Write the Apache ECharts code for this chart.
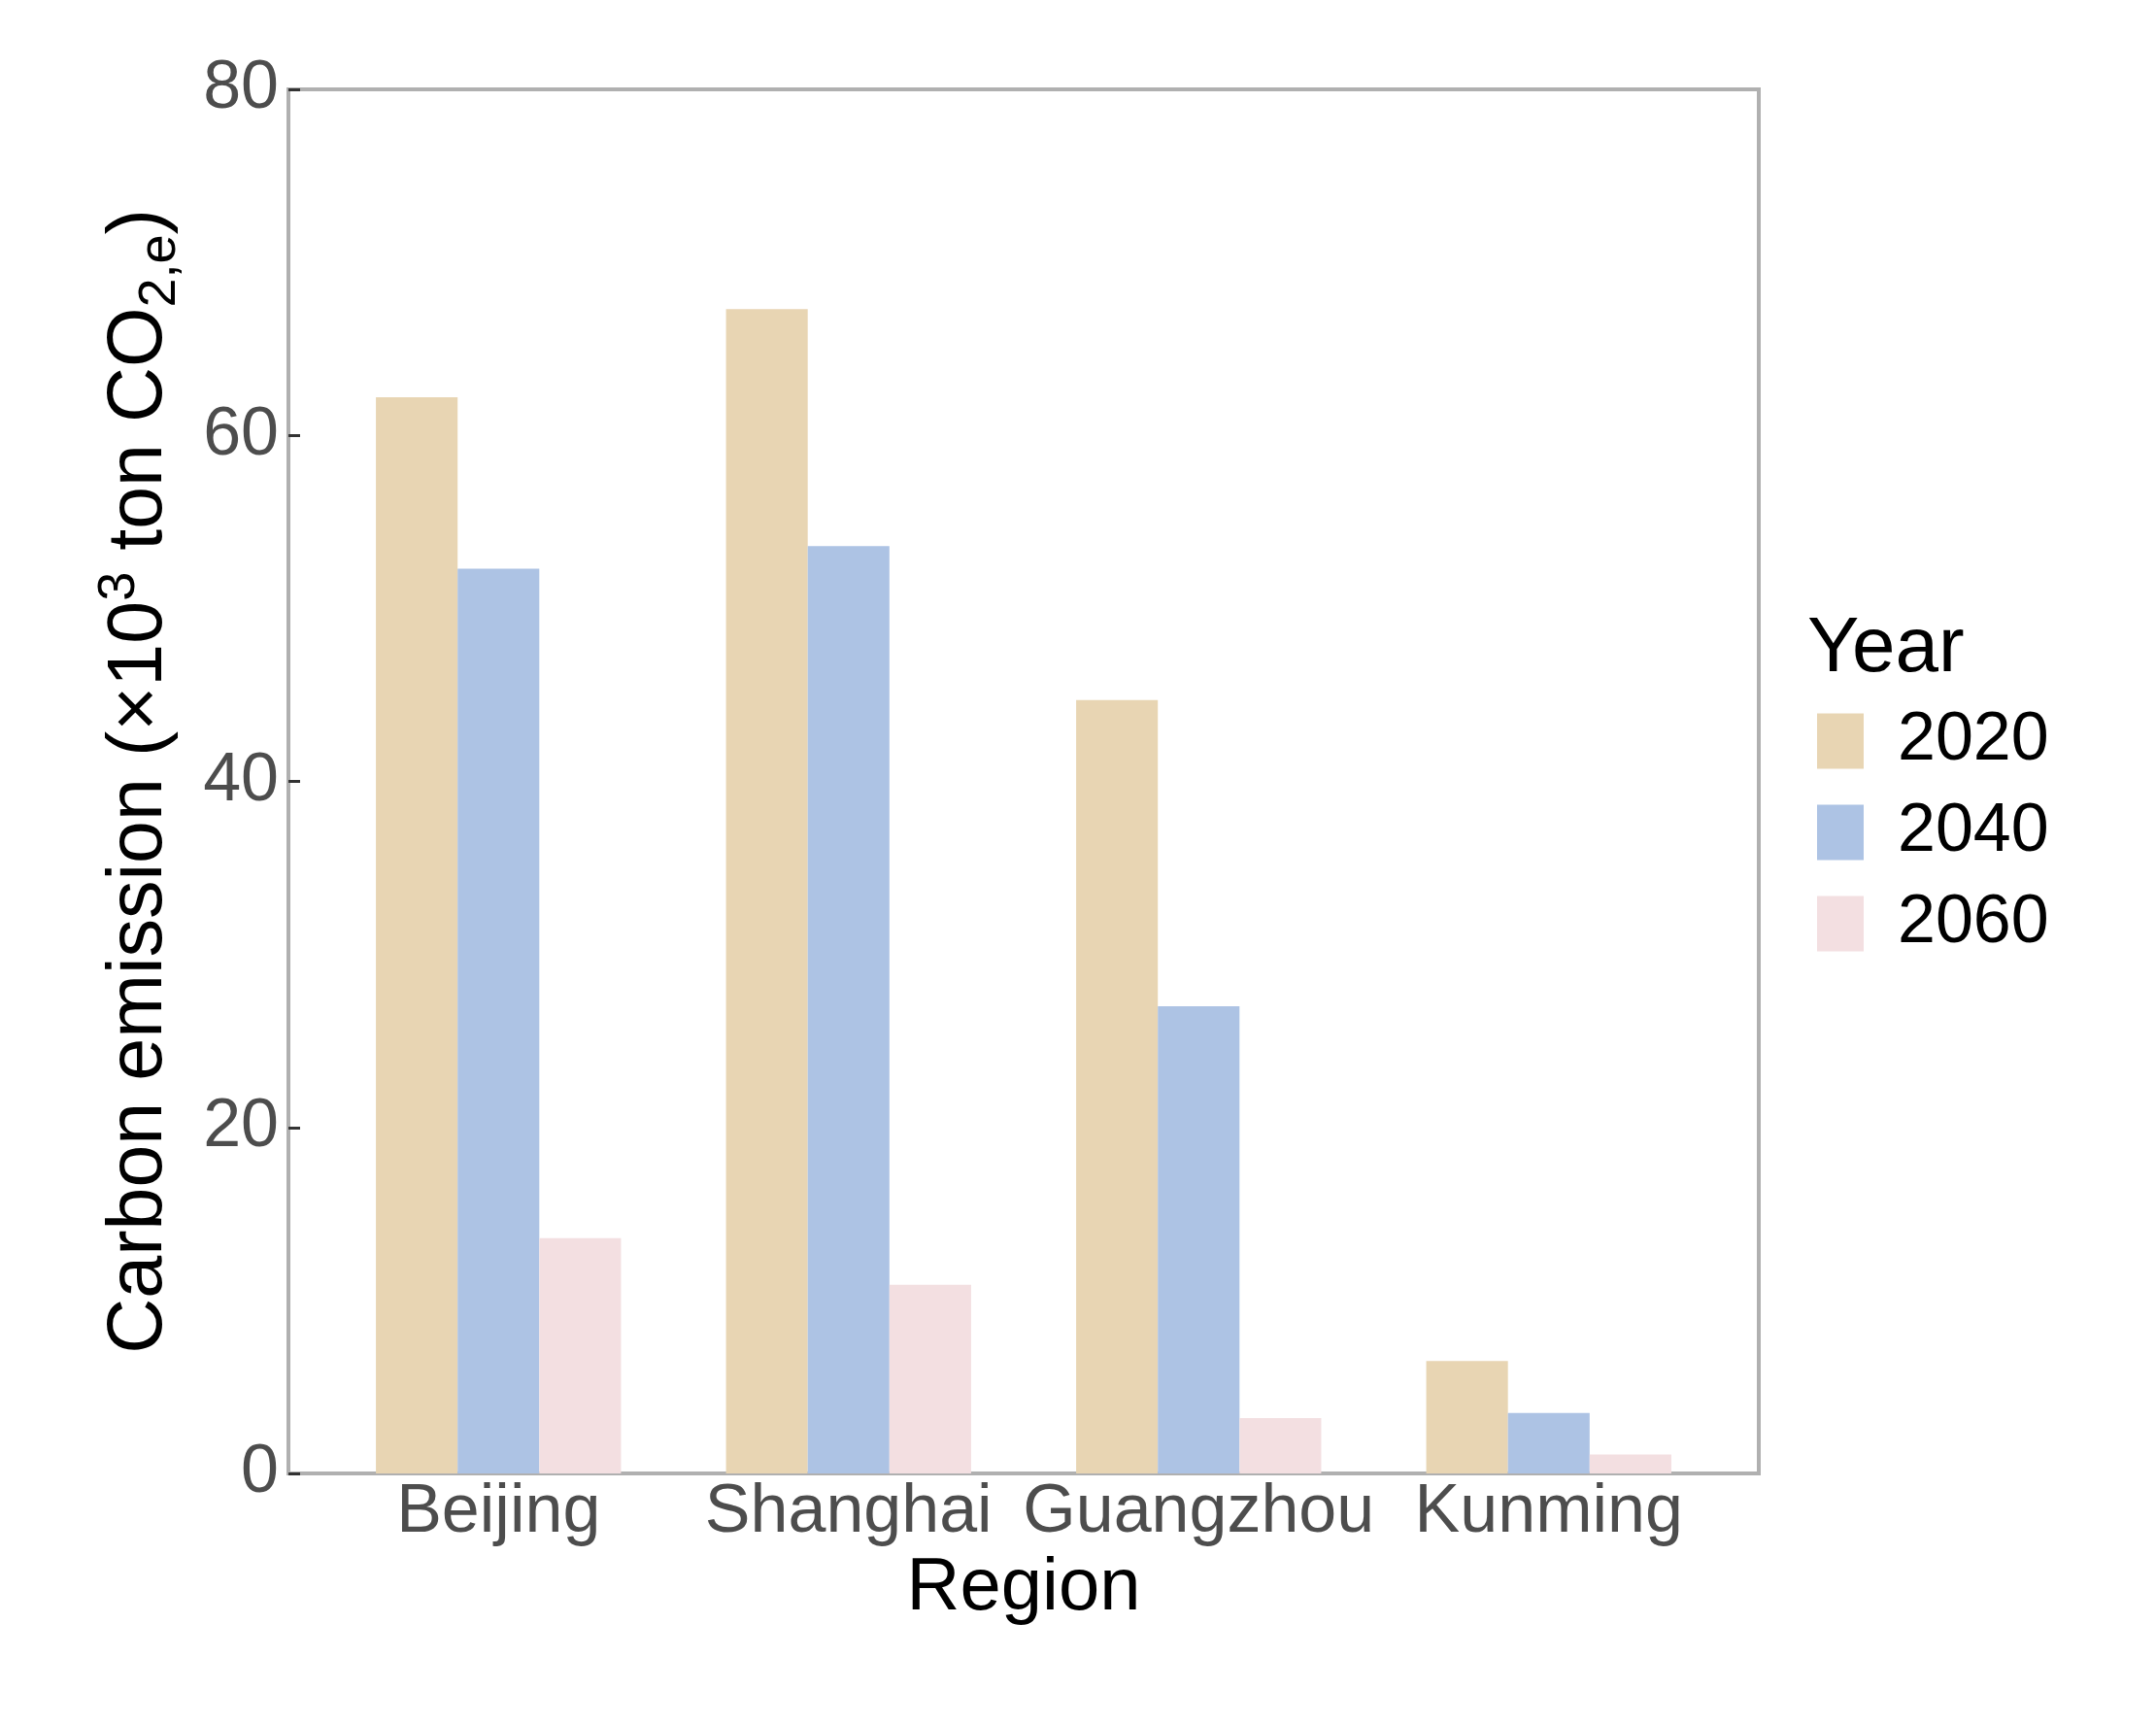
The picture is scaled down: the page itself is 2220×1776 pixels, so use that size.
<!DOCTYPE html>
<html>
<head>
<meta charset="utf-8">
<script src="https://cdn.jsdelivr.net/npm/echarts@6/dist/echarts.min.js"></script>
<style>
html,body{margin:0;padding:0;background:#fff;}
#chart{width:2220px;height:1776px;}
</style>
</head>
<body>
<div id="chart"></div>
<script>
const categories = ['Beijing', 'Shanghai', 'Guangzhou', 'Kunming'];
const years = ['2020', '2040', '2060'];
const values2020 = [62.2, 67.3, 44.7, 6.5];
const values2040 = [52.3, 53.6, 27.0, 3.5];
const values2060 = [13.6, 10.9, 3.2, 1.1];
const yTicks = [0, 20, 40, 60, 80];
const colors = ['#E8D5B3', '#ADC3E4', '#F3DFE1'];

const FONT = 'Liberation Sans, Arial, sans-serif';
const seriesValues = [values2020, values2040, values2060];
const tickStyle = { color: '#333', width: 3 };

const chart = echarts.init(document.getElementById('chart'));
const option = {
  backgroundColor: '#ffffff',
  animation: false,
  textStyle: { fontFamily: FONT },
  title: {
    text: 'Year',
    left: 1856,
    top: 624,
    textStyle: { fontFamily: FONT, fontSize: 80, fontWeight: 'normal', color: '#000' }
  },
  legend: {
    orient: 'vertical',
    left: 1866,
    top: 723,
    itemWidth: 48,
    itemHeight: 57,
    itemGap: 24,
    icon: 'rect',
    data: years,
    textStyle: { fontFamily: FONT, fontSize: 70, color: '#000', padding: [0, 0, 0, 30] }
  },
  grid: [
    { left: 297, top: 92, width: 1514, height: 1425, show: true, borderColor: '#B0B0B0', borderWidth: 4, backgroundColor: 'transparent' },
    { left: 333, top: 92, width: 1442, height: 1425 }
  ],
  xAxis: [
    { gridIndex: 0, type: 'value', show: false, min: 0, max: 1 },
    {
      gridIndex: 1, type: 'category', data: categories,
      axisLine: { show: false },
      axisTick: { show: false },
      axisLabel: { fontFamily: FONT, fontSize: 70, color: '#4D4D4D', margin: 6, interval: 0 },
      name: 'Region', nameLocation: 'middle', nameGap: 68,
      nameTextStyle: { fontFamily: FONT, fontSize: 76, color: '#000' }
    },
    {
      gridIndex: 1, type: 'category', data: categories, position: 'top', offset: -1425,
      axisLine: { show: false },
      axisLabel: { show: false },
      axisTick: { show: true, alignWithLabel: true, length: 12, lineStyle: tickStyle }
    }
  ],
  yAxis: [
    {
      gridIndex: 0, type: 'value', min: yTicks[0], max: yTicks[yTicks.length - 1], interval: 20,
      axisLine: { show: false },
      splitLine: { show: false },
      axisTick: { show: false },
      axisLabel: { fontFamily: FONT, fontSize: 70, color: '#4D4D4D', margin: 10 },
      name: 'Carbon emission (×10{sup|3} ton CO{sub|2,e})',
      nameLocation: 'middle', nameGap: 105, nameRotate: 90,
      nameTextStyle: {
        fontFamily: FONT, fontSize: 79, color: '#000', lineHeight: 96,
        rich: {
          sup: { fontFamily: FONT, fontSize: 54, color: '#000', verticalAlign: 'top', lineHeight: 56 },
          sub: { fontFamily: FONT, fontSize: 54, color: '#000', verticalAlign: 'bottom', lineHeight: 56 }
        }
      }
    },
    { gridIndex: 1, type: 'value', min: 0, max: 80, show: false },
    {
      gridIndex: 0, type: 'value', min: yTicks[0], max: yTicks[yTicks.length - 1], interval: 20,
      position: 'right', offset: -1514,
      axisLine: { show: false },
      splitLine: { show: false },
      axisLabel: { show: false },
      axisTick: { show: true, length: 12, lineStyle: tickStyle }
    }
  ],
  series: years.map((y, i) => ({
    name: y,
    type: 'bar',
    xAxisIndex: 1,
    yAxisIndex: 1,
    data: seriesValues[i],
    barGap: '0%',
    barCategoryGap: '30%',
    itemStyle: { color: colors[i] }
  }))
};
chart.setOption(option);
</script>
</body>
</html>
